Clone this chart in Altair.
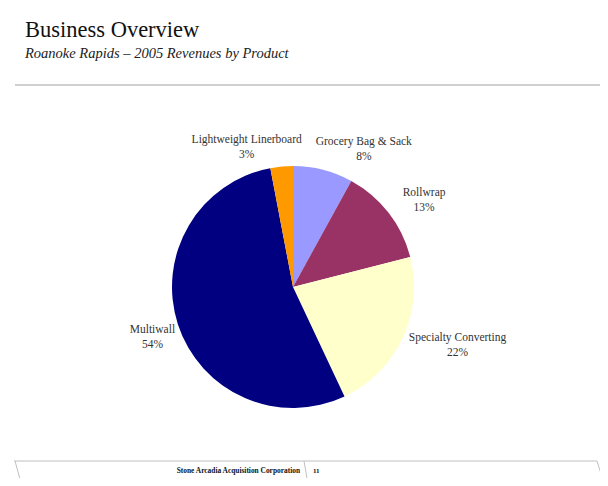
import altair as alt
import pandas as pd

products = ["Grocery Bag & Sack", "Rollwrap", "Specialty Converting", "Multiwall", "Lightweight Linerboard"]
shares = [8, 13, 22, 54, 3]
colors = ["#9999FF", "#993366", "#FFFFCC", "#000080", "#FF9900"]

title = "Business Overview"
subtitle = "Roanoke Rapids – 2005 Revenues by Product"
footer = "Stone Arcadia Acquisition Corporation"
page_no = "11"

df = pd.DataFrame({
    "product": products,
    "share": shares,
    "order": list(range(len(products))),
})
df["label"] = [f"{p}\n{s}%" for p, s in zip(products, shares)]

one = pd.DataFrame({"k": [0]})
SERIF = "Liberation Serif"
CX, CY = 285, 279
R_LABEL = 152

# label placement nudges (layout, px) relative to slice mid-angle point
nudge = {
    "Grocery Bag & Sack": (33, 2),
    "Rollwrap": (11, -1),
    "Specialty Converting": (27, -14),
    "Multiwall": (4, -4),
    "Lightweight Linerboard": (-32, 4),
}


def nudge_expr(idx):
    expr = "0"
    for p, v in nudge.items():
        expr = f"datum.product === '{p}' ? {v[idx]} : ({expr})"
    return expr


pie = alt.Chart(df).mark_arc(outerRadius=121, strokeWidth=0).encode(
    theta=alt.Theta("share:Q", stack=True),
    order=alt.Order("order:Q"),
    color=alt.Color("product:N", scale=alt.Scale(domain=products, range=colors), legend=None),
    x=alt.value(CX), y=alt.value(CY),
)

labels = alt.Chart(df).transform_joinaggregate(
    total="sum(share)"
).transform_window(
    cum="sum(share)", sort=[alt.SortField("order", order="ascending")], frame=[None, 0]
).transform_calculate(
    mid="(datum.cum - datum.share / 2) / datum.total * 2 * PI",
).transform_calculate(
    lx=f"{CX} + {R_LABEL} * sin(datum.mid) + ({nudge_expr(0)})",
    ly=f"{CY} - {R_LABEL} * cos(datum.mid) + ({nudge_expr(1)})",
).mark_text(font=SERIF, fontSize=11.5, color="#333333", lineBreak="\n", lineHeight=15,
            align="center", baseline="middle").encode(
    x=alt.X("lx:Q", scale=None),
    y=alt.Y("ly:Q", scale=None),
    text="label:N",
)

base1 = alt.Chart(one)
t1 = base1.mark_text(font=SERIF, fontSize=22.5, color="#111111", align="left", baseline="alphabetic").encode(
    x=alt.value(17), y=alt.value(29), text=alt.value(title))
t2 = base1.mark_text(font=SERIF, fontSize=14.5, fontStyle="italic", color="#222222", align="left",
                     baseline="alphabetic").encode(x=alt.value(17), y=alt.value(50), text=alt.value(subtitle))
hline = base1.mark_rule(color="#d0d0d0", strokeWidth=2).encode(
    x=alt.value(7), x2=alt.value(600), y=alt.value(77))

LC = "#c0c0c0"
fline = base1.mark_rule(color=LC, strokeWidth=1).encode(
    x=alt.value(6), x2=alt.value(589), y=alt.value(453))
fl_left = base1.mark_rule(color=LC, strokeWidth=1).encode(
    x=alt.value(7), x2=alt.value(12), y=alt.value(453), y2=alt.value(471))
fl_right = base1.mark_rule(color=LC, strokeWidth=1).encode(
    x=alt.value(589), x2=alt.value(595), y=alt.value(453), y2=alt.value(472))
fl_div = base1.mark_rule(color=LC, strokeWidth=1).encode(
    x=alt.value(296), x2=alt.value(300), y=alt.value(453), y2=alt.value(476))
ft = base1.mark_text(font=SERIF, fontSize=7.4, fontWeight="bold", color="#111111", align="right",
                     baseline="middle").encode(x=alt.value(292), y=alt.value(463), text=alt.value(footer))
pn = base1.mark_text(font=SERIF, fontSize=7, fontWeight="bold", color="#111111", align="left",
                     baseline="middle").encode(x=alt.value(305), y=alt.value(463), text=alt.value(page_no))

chart = alt.layer(pie, labels, t1, t2, hline, fline, fl_left, fl_right, fl_div, ft, pn).properties(
    width=592, height=470, padding=0, background="white",
    autosize=alt.AutoSizeParams(type="none"),
).configure_view(strokeWidth=0, stroke=None)

chart.save("out.html", embed_options={"renderer": "svg", "actions": False})
